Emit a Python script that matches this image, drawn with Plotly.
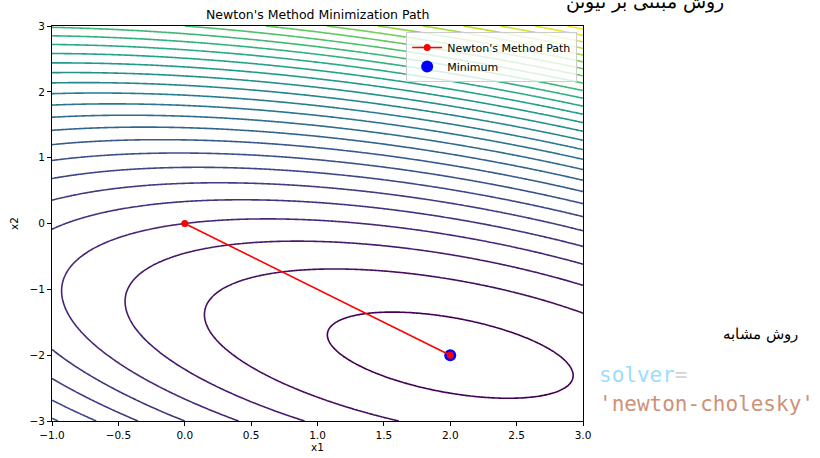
import numpy as np
import plotly.graph_objects as go

# Quadratic objective (relative to its minimum): a*dx^2 + b*dx*dy + c*dy^2
quad_coeffs = [1.5, 2.0, 3.0]
minimum_point = [2.0, -2.0]
x_range = [-1.0, 3.0]
y_range = [-3.0, 3.0]
contour_start = 1.0
contour_end = 85.0
contour_step = 3.0

path_x1 = [0.0, 2.0]
path_x2 = [0.0, -2.0]

x_ticks = [-1.0, -0.5, 0.0, 0.5, 1.0, 1.5, 2.0, 2.5, 3.0]
y_ticks = [-3, -2, -1, 0, 1, 2, 3]

title_text = "Newton's Method Minimization Path"
top_fa_text = "روش مبتنی بر نیوتن"
side_fa_text = "روش مشابه"
code_key = "solver"
code_val = "'newton-cholesky'"

xs = np.linspace(x_range[0], x_range[1], 300)
ys = np.linspace(y_range[0], y_range[1], 300)
X, Y = np.meshgrid(xs, ys)
a, b, c = quad_coeffs
DX = X - minimum_point[0]
DY = Y - minimum_point[1]
Z = a * DX**2 + b * DX * DY + c * DY**2

fig = go.Figure()
fig.add_trace(go.Contour(
    x=xs, y=ys, z=Z,
    contours=dict(coloring="lines", start=contour_start, end=contour_end, size=contour_step),
    colorscale="Viridis", zmin=contour_start, zmax=contour_end,
    line=dict(width=1.6), showscale=False, hoverinfo="skip", showlegend=False,
))
fig.add_trace(go.Scatter(
    x=[minimum_point[0]], y=[minimum_point[1]], mode="markers",
    marker=dict(color="#0000ff", size=12), name="Minimum", legendrank=2,
))
fig.add_trace(go.Scatter(
    x=path_x1, y=path_x2, mode="lines+markers",
    line=dict(color="#ff0000", width=1.6),
    marker=dict(color="#ff0000", size=7),
    name="Newton's Method Path", legendrank=1,
))

L, R, T, B = 52, 237, 26, 37
W, H = 820, 458
pw, ph = W - L - R, H - T - B

def px_to_paper(px, py):
    return (px - L) / pw, (H - B - py) / ph

annotations = []
tx, ty = px_to_paper(317, 14)
annotations.append(dict(text=title_text, x=tx, y=ty, xref="paper", yref="paper",
                        showarrow=False, font=dict(size=12.5, color="#000"), xanchor="center", yanchor="middle"))
tx, ty = px_to_paper(645, 1)
annotations.append(dict(text=top_fa_text, x=tx, y=ty, xref="paper", yref="paper",
                        showarrow=False, font=dict(size=19, color="#000", family="DejaVu Serif"),
                        xanchor="center", yanchor="middle"))
tx, ty = px_to_paper(800, 334)
annotations.append(dict(text=side_fa_text, x=tx, y=ty, xref="paper", yref="paper",
                        showarrow=False, font=dict(size=15, color="#000", family="DejaVu Serif"),
                        xanchor="right", yanchor="middle"))
tx, ty = px_to_paper(597, 375)
annotations.append(dict(text=f"<span style='color:#9cdcfe'>{code_key}</span><span style='color:#d4d4d4'>=</span>",
                        x=tx, y=ty, xref="paper", yref="paper", showarrow=False,
                        font=dict(size=21, family="DejaVu Sans Mono"), xanchor="left", yanchor="middle"))
tx, ty = px_to_paper(597, 404)
annotations.append(dict(text=code_val, x=tx, y=ty, xref="paper", yref="paper", showarrow=False,
                        font=dict(size=21, family="DejaVu Sans Mono", color="#ce9178"),
                        xanchor="left", yanchor="middle"))

axis_common = dict(showline=True, linecolor="#000", linewidth=1, mirror=True,
                   ticks="outside", ticklen=4, tickcolor="#000", showgrid=False, zeroline=False,
                   automargin=False, tickfont=dict(size=10.5, color="#000"))
fig.update_layout(
    width=W, height=H, autosize=False,
    margin=dict(l=L, r=R, t=T, b=B),
    paper_bgcolor="white", plot_bgcolor="white",
    font=dict(family="DejaVu Sans", color="#000"),
    xaxis=dict(range=x_range, tickvals=x_ticks, tickformat=".1f",
               title=dict(text="x1", font=dict(size=10.5), standoff=4), **axis_common),
    yaxis=dict(range=y_range, tickvals=y_ticks,
               title=dict(text="x2", font=dict(size=10.5), standoff=8), **axis_common),
    legend=dict(x=0.989, y=0.985, xanchor="right", yanchor="top",
                bgcolor="rgba(255,255,255,0.8)", bordercolor="#cccccc", borderwidth=1,
                font=dict(size=11, color="#000"), tracegroupgap=0),
    annotations=annotations,
    showlegend=True,
)
fig.write_html("out.html", config={"displayModeBar": False},
               post_script="document.body.style.margin='0';")
